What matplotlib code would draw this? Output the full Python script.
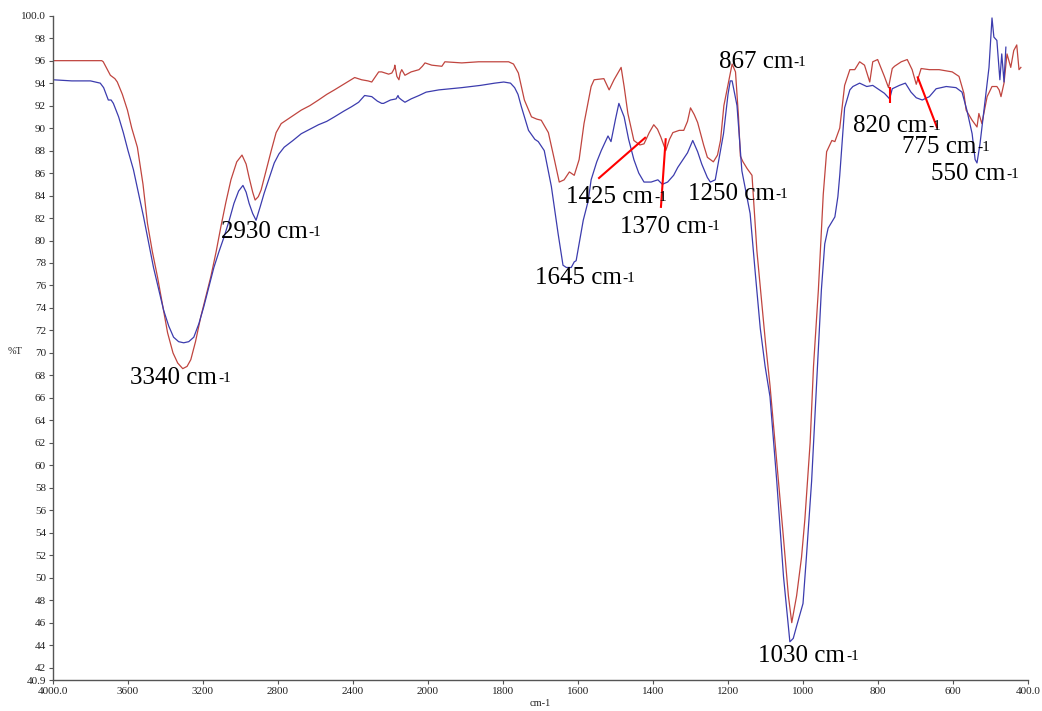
import numpy as np
import matplotlib
matplotlib.use("Agg")
import matplotlib.pyplot as plt

plt.rcParams['font.family'] = ['Liberation Serif', 'DejaVu Serif']

# ---------- spectrum data (wavenumber cm-1, %T) ----------
red_w = [4000, 3900, 3800, 3740, 3732, 3710, 3694, 3670, 3657, 3630, 3603, 3580,
         3550, 3520, 3496, 3470, 3442, 3415, 3389, 3360, 3335, 3308, 3285, 3265,
         3240, 3212, 3185, 3158, 3130, 3105, 3078, 3051, 3020, 2992, 2970, 2954,
         2935, 2922, 2905, 2890, 2862, 2836, 2810, 2783, 2730, 2676, 2630, 2584,
         2540, 2499, 2440, 2391, 2354, 2320, 2300, 2263, 2247, 2210, 2193, 2180,
         2177, 2166, 2155, 2148, 2140, 2123, 2090, 2048, 2030, 2016, 1990, 1963,
         1955, 1910, 1865, 1804, 1785, 1772, 1759, 1743, 1724, 1710, 1698, 1679,
         1663, 1650, 1637, 1623, 1610, 1597, 1584, 1565, 1557, 1531, 1517, 1504,
         1485, 1477, 1467, 1451, 1435, 1424, 1410, 1398, 1388, 1379, 1366, 1356,
         1347, 1330, 1318, 1308, 1300, 1290, 1281, 1265, 1255, 1239, 1228, 1220,
         1211, 1202, 1189, 1180, 1172, 1167, 1160, 1149, 1136, 1123, 1110, 1100,
         1088, 1070, 1052, 1039, 1030, 1017, 1004, 995, 981, 972, 959, 946,
         937, 923, 915, 902, 889, 875, 862, 849, 836, 822, 814, 801,
         783, 772, 762, 756, 738, 722, 709, 698, 685, 663, 637, 602,
         584, 571, 565, 549, 536, 531, 523, 509, 496, 483, 477, 472,
         464, 456, 446, 438, 430, 424, 419]
red_t = [96.0, 96.0, 96.0, 96.0, 95.9, 95.2, 94.7, 94.4, 94.1, 93.0, 91.6, 90.0,
         88.3, 85.0, 81.5, 79.0, 76.7, 74.2, 71.8, 70.0, 69.1, 68.6, 68.8, 69.4,
         71.0, 73.2, 75.0, 76.8, 79.0, 81.2, 83.4, 85.4, 87.0, 87.6, 86.8, 85.6,
         84.3, 83.6, 83.9, 84.5, 86.3, 88.0, 89.6, 90.4, 91.0, 91.6, 92.0, 92.5,
         93.0, 93.4, 94.0, 94.5, 94.3, 94.2, 94.1, 95.0, 95.0, 94.8, 94.9, 95.3,
         95.6, 94.6, 94.3, 94.9, 95.2, 94.7, 95.0, 95.2, 95.5, 95.8, 95.6, 95.5,
         95.9, 95.8, 95.9, 95.9, 95.9, 95.7, 94.9, 92.5, 91.0, 90.8, 90.7, 89.6,
         87.2, 85.2, 85.4, 86.1, 85.8, 87.2, 90.4, 93.7, 94.3, 94.4, 93.4, 94.3,
         95.4, 93.7, 91.3, 88.9, 88.5, 88.6, 89.6, 90.3, 89.9, 89.2, 88.0, 89.0,
         89.6, 89.8, 89.8, 90.6, 91.8, 91.2, 90.5, 88.5, 87.4, 87.0, 87.6, 88.9,
         92.0, 93.5, 95.7, 95.0, 91.0, 87.5, 87.0, 86.4, 85.8, 79.1, 74.5, 70.9,
         67.1, 60.3, 53.5, 48.4, 46.0, 48.4, 51.8, 55.2, 62.0, 68.8, 75.6, 84.1,
         87.9, 88.9, 88.8, 90.0, 93.8, 95.2, 95.2, 95.9, 95.6, 94.1, 95.9, 96.1,
         94.6, 93.6, 95.3, 95.5, 95.9, 96.1, 95.2, 93.9, 95.3, 95.2, 95.2, 95.0,
         94.6, 93.1, 91.6, 90.7, 90.1, 91.3, 90.4, 92.8, 93.7, 93.7, 93.4, 92.8,
         94.0, 96.6, 95.4, 96.9, 97.4, 95.2, 95.4]

blue_w = [4000, 3900, 3800, 3748, 3730, 3705, 3690, 3678, 3650, 3625, 3600, 3571,
          3545, 3517, 3490, 3464, 3437, 3410, 3383, 3357, 3330, 3303, 3276, 3249,
          3222, 3196, 3170, 3142, 3115, 3088, 3060, 3035, 3010, 2987, 2970, 2954,
          2935, 2917, 2895, 2874, 2846, 2820, 2795, 2767, 2720, 2676, 2630, 2584,
          2540, 2499, 2450, 2408, 2370, 2338, 2300, 2270, 2247, 2237, 2200, 2170,
          2160, 2155, 2140, 2123, 2090, 2048, 2010, 1971, 1910, 1860, 1822, 1798,
          1780, 1769, 1760, 1751, 1732, 1715, 1706, 1690, 1671, 1653, 1640, 1631,
          1618, 1610, 1605, 1586, 1573, 1565, 1550, 1538, 1520, 1512, 1500, 1491,
          1477, 1465, 1451, 1438, 1424, 1405, 1387, 1375, 1361, 1345, 1334, 1320,
          1308, 1294, 1281, 1270, 1255, 1247, 1234, 1220, 1212, 1200, 1194, 1189,
          1176, 1163, 1141, 1127, 1114, 1101, 1088, 1070, 1052, 1035, 1026, 1017,
          1000, 991, 977, 964, 951, 942, 933, 915, 907, 902, 889, 875,
          867, 849, 830, 814, 796, 783, 769, 762, 743, 727, 712, 698,
          682, 663, 645, 618, 592, 576, 563, 549, 541, 536, 528, 512,
          504, 496, 491, 483, 475, 470, 464, 459]
blue_t = [94.3, 94.2, 94.2, 94.0, 93.6, 92.5, 92.5, 92.2, 91.0, 89.6, 88.0, 86.3,
          84.3, 82.1, 79.8, 77.6, 75.7, 73.8, 72.4, 71.4, 71.0, 70.9, 71.0, 71.4,
          72.6, 74.1, 75.8, 77.6, 79.0, 80.3, 81.8, 83.3, 84.4, 84.9, 84.3, 83.3,
          82.4, 81.8, 83.0, 84.2, 85.6, 86.9, 87.7, 88.3, 88.9, 89.5, 89.9, 90.3,
          90.6, 91.0, 91.5, 91.9, 92.3, 92.9, 92.8, 92.4, 92.2, 92.2, 92.5, 92.6,
          92.9, 92.7, 92.5, 92.3, 92.6, 92.9, 93.2, 93.4, 93.6, 93.8, 94.0, 94.1,
          94.0, 93.6, 93.0, 91.9, 89.8, 89.0, 88.8, 88.0, 84.8, 80.6, 77.8, 77.6,
          77.6, 78.1, 78.2, 81.8, 83.5, 85.4, 87.0, 88.0, 89.3, 88.8, 90.8, 92.2,
          91.0, 89.0, 87.2, 86.0, 85.2, 85.2, 85.4, 85.0, 85.2, 85.8, 86.5, 87.2,
          87.8, 88.9, 87.9, 86.8, 85.6, 85.2, 85.4, 88.0, 89.5, 93.0, 94.2, 94.2,
          92.0, 86.2, 82.4, 77.0, 72.2, 68.8, 66.1, 58.6, 50.1, 44.3, 44.6, 45.7,
          47.7, 51.8, 58.6, 67.1, 75.6, 79.7, 81.1, 82.1, 83.9, 85.8, 91.8, 93.4,
          93.7, 94.0, 93.7, 93.8, 93.4, 93.1, 92.6, 93.5, 93.8, 94.0, 93.2, 92.7,
          92.5, 92.8, 93.5, 93.7, 93.6, 93.2, 91.6, 89.5, 87.2, 86.9, 88.6, 93.1,
          95.4, 99.8, 98.1, 97.8, 94.3, 96.6, 94.1, 97.2]

# band labels: text, left x (cm-1), baseline (%T)
band_text = ['3340 cm', '2930 cm', '1645 cm', '1425 cm', '1370 cm', '1250 cm',
             '867 cm', '1030 cm', '820 cm', '775 cm', '550 cm']
band_x = [3587, 3105, 1714, 1631, 1488, 1308, 1225, 1119, 867, 735, 658]
band_y = [67.2, 80.2, 76.1, 83.3, 80.7, 83.6, 95.35, 42.5, 89.65, 87.8, 85.4]

# red pointer lines: (w0, t0, w1, t1)
pointers = [(1546, 85.5, 1419, 89.2),
            (1366, 89.1, 1379, 82.9),
            (769, 93.7, 769, 92.2),
            (695, 94.6, 642, 90.0)]

xticks = [4000, 3600, 3200, 2800, 2400, 2000, 1800, 1600, 1400, 1200, 1000, 800, 600, 400]
xtick_labels = ['4000.0', '3600', '3200', '2800', '2400', '2000', '1800', '1600',
                '1400', '1200', '1000', '800', '600', '400.0']
yticks = [40.9] + list(range(42, 100, 2)) + [100.0]
ytick_labels = ['40.9'] + [str(v) for v in range(42, 100, 2)] + ['100.0']


# axis is compressed by 2x above 2000 cm-1
def fwd(w):
    w = np.asarray(w, dtype=float)
    return np.where(w > 2000, 2000 + (w - 2000) / 2.0, w)


def inv(u):
    u = np.asarray(u, dtype=float)
    return np.where(u > 2000, 2000 + (u - 2000) * 2.0, u)


fig = plt.figure(figsize=(10.42, 7.11), dpi=100)
ax = fig.add_axes([53 / 1042, 31 / 711, 975 / 1042, 664.3 / 711])
ax.set_xscale('function', functions=(fwd, inv))

ax.plot(red_w, red_t, color='#c0453f', lw=0.9)
ax.plot(blue_w, blue_t, color='#3c3cae', lw=0.9)

for w0, t0, w1, t1 in pointers:
    ax.plot([w0, w1], [t0, t1], color='#ff0000', lw=1.5, solid_capstyle='butt')

for txt, bx, by in zip(band_text, band_x, band_y):
    t = ax.text(bx, by, txt, fontsize=18, va='baseline', ha='left', color='black')
    ax.annotate('-1', xy=(1, 1), xycoords=t, xytext=(0.5, -3.5),
                textcoords='offset points', fontsize=11, va='top', ha='left')

ax.set_xlim(4000, 400)
ax.set_ylim(40.9, 100.0)
ax.set_xticks(xticks)
ax.set_xticklabels(xtick_labels)
ax.set_yticks(yticks)
ax.set_yticklabels(ytick_labels)
ax.minorticks_off()

for side in ['top', 'right']:
    ax.spines[side].set_visible(False)
for side in ['left', 'bottom']:
    ax.spines[side].set_color('#555555')
    ax.spines[side].set_linewidth(1.0)
ax.tick_params(direction='out', length=3, width=0.8, color='#555555',
               labelsize=8, labelcolor='#222222', pad=2)

fig.text(15 / 1042, 1 - 352 / 711, '%T', fontsize=7.5, ha='center', va='center', color='#222222')
fig.text(540 / 1042, 1 - 703 / 711, 'cm-1', fontsize=7.5, ha='center', va='center', color='#222222')

fig.savefig('out.png', dpi=100)
